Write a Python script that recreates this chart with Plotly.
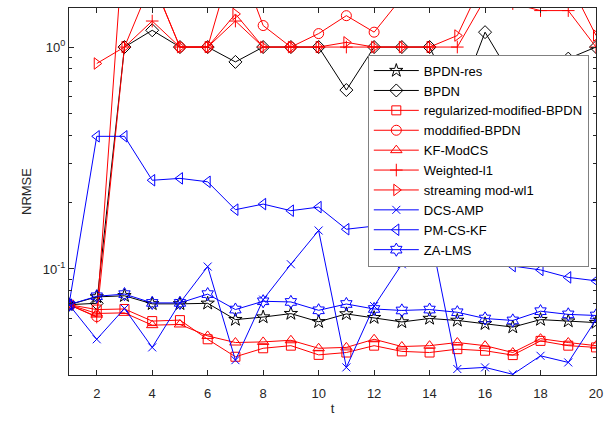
import plotly.graph_objects as go

t = list(range(1, 21))

bpdn_res = [0.069, 0.0748, 0.0757, 0.0696, 0.0696, 0.0700, 0.0591, 0.0607, 0.0629, 0.0578,
            0.0627, 0.0603, 0.0577, 0.0598, 0.0586, 0.0566, 0.0547, 0.0591, 0.0582, 0.0573]
bpdn = [0.069, 0.070, 1.0, 1.19, 1.0, 1.0, 0.857, 1.0, 1.0, 1.0,
        0.64, 1.0, 1.0, 1.0, 0.55, 1.167, 0.72, 0.75, 0.887, 1.0]
reg_mod_bpdn = [0.069, 0.0656, 0.0660, 0.0582, 0.0588, 0.0482, 0.0402, 0.0439, 0.0451, 0.0410,
                0.0420, 0.0451, 0.0425, 0.0420, 0.0435, 0.0428, 0.0409, 0.0474, 0.0451, 0.0443]
mod_bpdn = [0.069, 0.061, 3.5, 2.0, 1.0, 1.0, 2.7, 1.25, 1.0, 1.15,
            1.385, 1.167, 1.67, 2.5, 3.0, 3.2, 3.0, 2.8, 3.0, 3.2]
kf_modcs = [0.069, 0.063, 0.0634, 0.0558, 0.0562, 0.0499, 0.0466, 0.0469, 0.0477, 0.0439,
            0.0443, 0.0482, 0.0447, 0.0451, 0.0466, 0.0451, 0.0420, 0.0485, 0.0466, 0.0451]
weighted_l1 = [0.069, 0.0607, 1.0, 1.31, 1.0, 1.0, 1.31, 1.0, 1.0, 1.0,
               1.0, 1.0, 1.0, 1.0, 1.0, 1.65, 1.57, 1.46, 1.46, 1.0]
streaming = [None, 0.843, 1.0, 2.0, 1.0, 1.0, 1.41, 1.0, 1.0, 1.0,
             1.05, 1.0, 1.0, 1.0, 1.127, 2.07, 2.2, 2.3, 2.0, 1.127]
dcs_amp = [0.069, 0.0482, 0.0663, 0.0443, 0.0703, 0.1025, 0.0388, 0.0727, 0.105, 0.149,
           0.036, 0.068, 0.105, 0.149, 0.0354, 0.036, 0.0335, 0.0406, 0.0379, 0.0591]
pm_cs_kf = [0.069, 0.396, 0.396, 0.251, 0.256, 0.247, 0.185, 0.196, 0.183, 0.19,
            0.151, 0.156, 0.147, 0.148, 0.127, 0.115, 0.103, 0.099, 0.0916, 0.0884]
za_lms = [0.069, 0.0753, 0.077, 0.0703, 0.0703, 0.077, 0.0656, 0.0715, 0.071, 0.0651,
          0.0695, 0.066, 0.065, 0.0656, 0.0638, 0.0598, 0.0586, 0.0645, 0.0624, 0.0617]

y_tickvals = [0.1, 1]
y_ticktext = ["10<sup>-1</sup>", "10<sup>0</sup>"]
y_minor = [0.04, 0.05, 0.06, 0.07, 0.08, 0.09, 0.2, 0.3, 0.4, 0.5, 0.6, 0.7, 0.8, 0.9]

series = [
    ("BPDN-res", bpdn_res, "black", "star-open", 10),
    ("BPDN", bpdn, "black", "diamond-open", 10),
    ("regularized-modified-BPDN", reg_mod_bpdn, "red", "square-open", 9),
    ("moddified-BPDN", mod_bpdn, "red", "circle-open", 10),
    ("KF-ModCS", kf_modcs, "red", "triangle-up-open", 10),
    ("Weighted-l1", weighted_l1, "red", "cross-thin-open", 9),
    ("streaming mod-wl1", streaming, "red", "triangle-right-open", 10),
    ("DCS-AMP", dcs_amp, "blue", "x-thin-open", 8),
    ("PM-CS-KF", pm_cs_kf, "blue", "triangle-left-open", 10),
    ("ZA-LMS", za_lms, "blue", "hexagram-open", 10),
]

fig = go.Figure()
for name, vals, col, sym, sz in series:
    fig.add_trace(go.Scatter(
        x=t, y=vals, name=name, mode="lines+markers",
        line=dict(color=col, width=1),
        marker=dict(symbol=sym, size=sz, color=col, line=dict(color=col, width=1)),
    ))

axcol = "#262626"
font = "Liberation Sans, Arial, sans-serif"

fig.update_layout(
    width=611, height=421,
    margin=dict(l=69, r=15, t=7, b=43),
    paper_bgcolor="white", plot_bgcolor="white",
    font=dict(family=font, size=13, color=axcol),
    showlegend=True,
    legend=dict(
        x=0.567, y=0.873, xanchor="left", yanchor="top",
        bgcolor="white", bordercolor="#808080", borderwidth=1,
        font=dict(family=font, size=13, color="black"),
        itemwidth=45, tracegroupgap=0,
    ),
    xaxis=dict(
        range=[1, 20], tick0=0, dtick=2, ticks="inside", ticklen=5, tickwidth=1,
        showline=True, linecolor=axcol, linewidth=1, mirror="allticks",
        showgrid=False, zeroline=False, tickcolor=axcol,
        ticklabelstandoff=6,
        title=dict(text="t", standoff=4, font=dict(size=13)),
    ),
    yaxis=dict(
        type="log", range=[-1.478, 0.176],
        tickmode="array", tickvals=y_tickvals, ticktext=y_ticktext,
        ticks="inside", ticklen=5, tickwidth=1, tickcolor=axcol,
        minor=dict(ticks="inside", ticklen=3, tickwidth=1, tickcolor=axcol,
                   tickvals=y_minor),
        showline=True, linecolor=axcol, linewidth=1, mirror="allticks",
        showgrid=False, zeroline=False,
        title=dict(text="NRMSE", standoff=8, font=dict(size=13)),
    ),
)

fig.write_html("out.html")
